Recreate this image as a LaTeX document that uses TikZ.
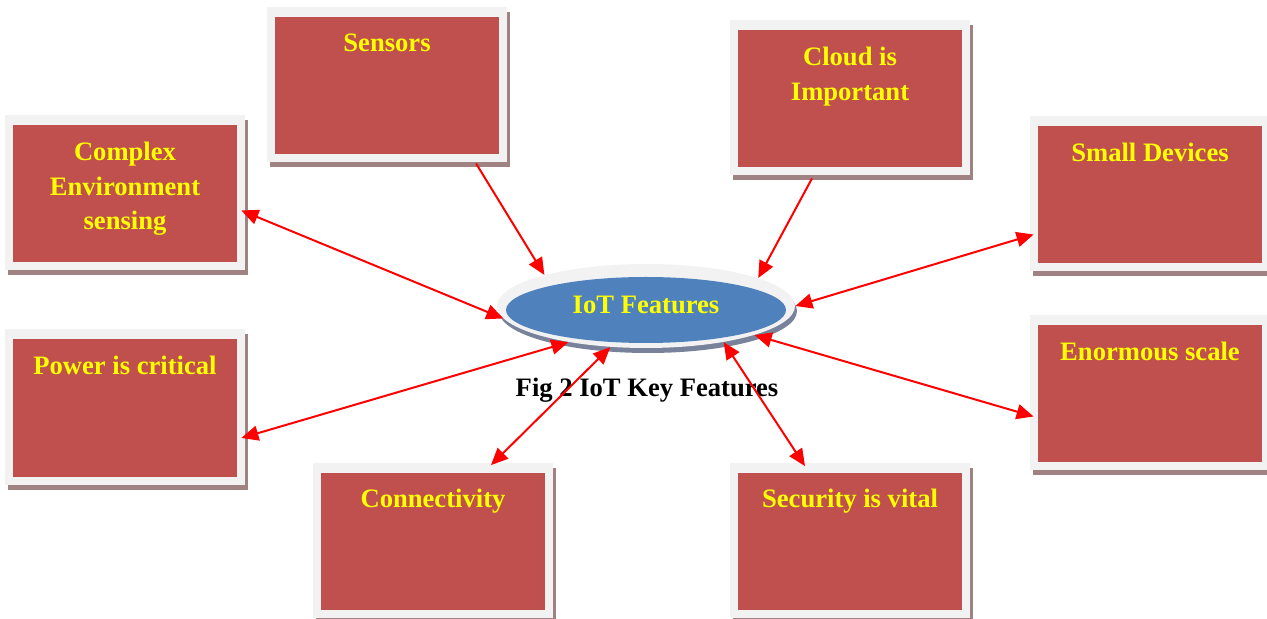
\documentclass[tikz,border=0pt]{standalone}
\usepackage{fontspec}
\setmainfont{Liberation Serif}
\usetikzlibrary{arrows.meta}
\usetikzlibrary{calc,positioning,shapes.geometric,shadows}
\definecolor{boxred}{RGB}{192,80,77}
\definecolor{boxrim}{RGB}{242,242,242}
\definecolor{boxshade}{RGB}{160,130,130}
\definecolor{ellblue}{RGB}{79,129,189}
\definecolor{ellshade}{RGB}{120,130,155}
\definecolor{featyellow}{RGB}{255,255,0}

\begin{document}
\begin{tikzpicture}[x=0.5pt,y=-0.5pt]
\fontsize{13.3}{17.3}\selectfont\bfseries
\useasboundingbox (0,0) rectangle (1267,619);
\tikzstyle{feat}=[rectangle, fill=boxrim, minimum width=120pt, minimum height=77.5pt, inner sep=0pt,
  drop shadow={shadow xshift=1.5pt, shadow yshift=-2.5pt, fill=boxshade, opacity=1},
  path picture={\fill[boxred] ([shift={(4pt,4pt)}]path picture bounding box.south west)
    rectangle ([shift={(-4pt,-5pt)}]path picture bounding box.north east);}]
\tikzstyle{feattext}=[inner sep=0pt, text=featyellow, align=center]
\tikzstyle{oneway}=[-{Triangle[length=8.5pt,width=7.5pt]}, red, line width=1pt]
\tikzstyle{twoway}=[{Triangle[length=8.5pt,width=7.5pt]}-{Triangle[length=8.5pt,width=7.5pt]}, red, line width=1pt]

% feature boxes
\node[feat] (sensors) at (387,84.5) {};
\node[feat] (cloud) at (850,97.5) {};
\node[feat] (complex) at (125,192.5) {};
\node[feat] (small) at (1150,193.5) {};
\node[feat] (power) at (125,407) {};
\node[feat] (enormous) at (1150,392.5) {};
\node[feat] (conn) at (433,540) {};
\node[feat] (security) at (850,540) {};

\node[feattext, below=13.5pt of sensors.north] (sensorstext) {Sensors};
\node[feattext, below=13.5pt of cloud.north] (cloudtext) {Cloud is\\Important};
\node[feattext, below=13.5pt of complex.north] (complextext) {Complex\\Environment\\sensing};
\node[feattext, below=13.5pt of small.north] (smalltext) {Small Devices};
\node[feattext, below=13.5pt of power.north] (powertext) {Power is critical};
\node[feattext, below=13.5pt of enormous.north] (enormoustext) {Enormous scale};
\node[feattext, below=13.5pt of conn.north] (conntext) {Connectivity};
\node[feattext, below=13.5pt of security.north] (securitytext) {Security is vital};

% centre
\node[ellipse, fill=boxrim, minimum width=149pt, minimum height=42pt, inner sep=0pt,
  drop shadow={shadow xshift=1pt, shadow yshift=-2.5pt, fill=ellshade, opacity=1}] (iotring) at (646,306) {};
\node[ellipse, fill=ellblue, minimum width=140pt, minimum height=33pt, inner sep=0pt] (iot) at (646,310) {};
\node[feattext] (iotlabel) at (646,305) {IoT Features};
\node[inner sep=0pt] (caption) at (647,390) {Fig 2 IoT Key Features};

\path ($(sensors.south)+(89,1)$) edge[oneway] (iotring.163);
\path ($(cloud.south)+(-38,3)$) edge[oneway] (iotring.14);
\path (iotring.185) edge[twoway] ($(complex.east)+(-4,18)$);
\path (iotring.0) edge[twoway] ($(small.west)+(4,41)$);
\path (iotring.205) edge[twoway] ($(power.east)+(-4,31)$);
\path (iotring.345) edge[twoway] ($(enormous.west)+(4,24)$);
\path (iotring.229) edge[twoway] ($(conn.north)+(58,3)$);
\path (iotring.335) edge[twoway] ($(security.north)+(-45,4)$);
\end{tikzpicture}
\end{document}
